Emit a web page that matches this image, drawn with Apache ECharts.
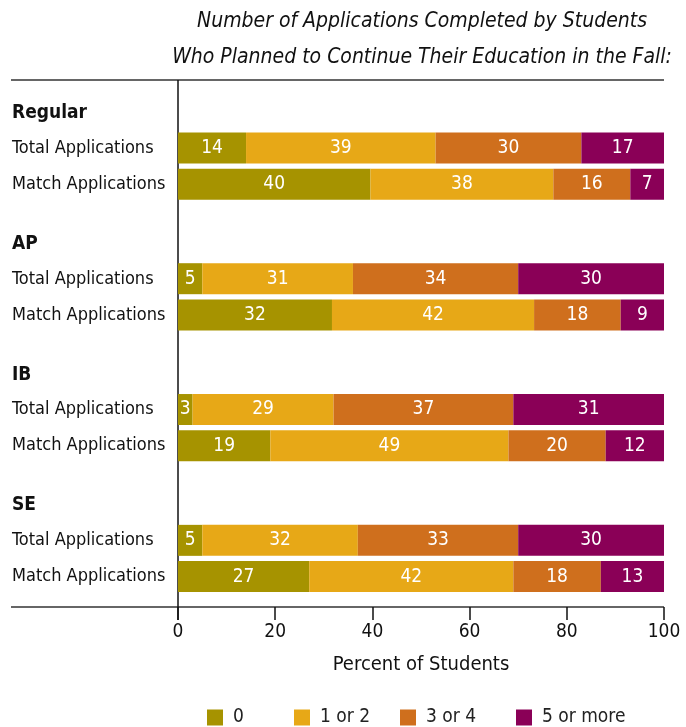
<!DOCTYPE html>
<html>
<head>
<meta charset="utf-8">
<script src="https://cdn.jsdelivr.net/npm/echarts@6/dist/echarts.min.js"></script>
<style>
html,body{margin:0;padding:0;background:#fff;}
#chart{width:686px;height:727px;}
</style>
</head>
<body>
<div id="chart"></div>
<script>
// ---- data ----
const groups = ['Regular', 'AP', 'IB', 'SE'];
const rowTypes = ['Total Applications', 'Match Applications'];
const seriesNames = ['0', '1 or 2', '3 or 4', '5 or more'];
// per group (Regular, AP, IB, SE)
const total0     = [14, 5, 3, 5];
const total1or2  = [39, 31, 29, 32];
const total3or4  = [30, 34, 37, 33];
const total5plus = [17, 30, 31, 30];
const match0     = [40, 32, 19, 27];
const match1or2  = [38, 42, 49, 42];
const match3or4  = [16, 18, 20, 18];
const match5plus = [7, 9, 12, 13];
const xTicks = [0, 20, 40, 60, 80, 100];
const colors = ['#A69300', '#E7A817', '#CF6F1D', '#8A0057'];

const FONT = "'DejaVu Sans Condensed', 'Liberation Sans Narrow', Roboto, sans-serif";
const totalVals = [total0, total1or2, total3or4, total5plus];
const matchVals = [match0, match1or2, match3or4, match5plus];
const sumOf = (sets, i) => sets.reduce((s, a) => s + a[i], 0);

function makeSeries(sets, stack) {
  return seriesNames.map((name, si) => ({
    name: name,
    type: 'bar',
    stack: stack,
    barWidth: 31,
    barGap: '17%',
    itemStyle: { color: colors[si] },
    label: {
      show: true,
      position: 'inside',
      color: '#fff',
      fontFamily: FONT,
      fontSize: 19,
      formatter: p => String(p.data.raw)
    },
    data: groups.map((g, gi) => ({
      value: sets[si][gi] / sumOf(sets, gi) * 100,
      raw: sets[si][gi]
    }))
  }));
}
const series = makeSeries(totalVals, 'total').concat(makeSeries(matchVals, 'match'));

const legendLefts = [207, 294, 400, 516];
const legends = seriesNames.map((n, i) => ({
  data: [n],
  left: legendLefts[i],
  top: 708,
  padding: 0,
  icon: 'rect',
  itemWidth: 16,
  itemHeight: 16,
  selectedMode: false,
  textStyle: { fontFamily: FONT, fontSize: 19, color: '#222', padding: [0, 0, 0, 5] }
}));

const chart = echarts.init(document.getElementById('chart'), null, { renderer: 'canvas' });
chart.setOption({
  animation: false,
  backgroundColor: '#fff',
  title: {
    text: 'Number of Applications Completed by Students\nWho Planned to Continue Their Education in the Fall:',
    left: 422,
    top: 4,
    padding: 0,
    textAlign: 'center',
    textStyle: { fontFamily: FONT, fontStyle: 'italic', fontWeight: 'normal', fontSize: 21, lineHeight: 36, color: '#111' }
  },
  legend: legends,
  grid: { left: 178, right: 22, top: 100.6, bottom: 103.1, containLabel: false },
  xAxis: {
    type: 'value',
    min: 0, max: 100, interval: 20,
    offset: -16.9,
    axisLine: { show: false },
    axisTick: { show: true, length: 13, lineStyle: { color: '#111', width: 1.5 } },
    splitLine: { show: false },
    axisLabel: { fontFamily: FONT, fontSize: 19, color: '#111', margin: 16,
      formatter: v => xTicks.indexOf(v) >= 0 ? String(v) : '' },
    name: 'Percent of Students',
    nameLocation: 'middle',
    nameGap: 48,
    nameTextStyle: { fontFamily: FONT, fontSize: 20, color: '#111' }
  },
  yAxis: {
    type: 'category',
    inverse: true,
    data: groups,
    axisLine: { show: false },
    axisTick: { show: false },
    axisLabel: {
      margin: 166,
      align: 'left',
      interval: 0,
      formatter: g => '{h|' + g + '}\n{r|' + rowTypes[0] + '}\n{r|' + rowTypes[1] + '}\n{g| }',
      rich: {
        h: { fontFamily: FONT, fontSize: 19, fontWeight: 'bold', color: '#111', lineHeight: 34, height: 34 },
        r: { fontFamily: FONT, fontSize: 18, color: '#111', lineHeight: 36, height: 36 },
        g: { fontSize: 10, lineHeight: 34, height: 34 }
      }
    }
  },
  graphic: [
    { type: 'line', shape: { x1: 11, y1: 80, x2: 664, y2: 80 }, style: { stroke: '#333', lineWidth: 1.5 } },
    { type: 'line', shape: { x1: 11, y1: 607, x2: 664, y2: 607 }, style: { stroke: '#333', lineWidth: 1.5 } },
    { type: 'line', shape: { x1: 178, y1: 80, x2: 178, y2: 620 }, style: { stroke: '#111', lineWidth: 1.5 } }
  ],
  series: series
});
</script>
</body>
</html>
